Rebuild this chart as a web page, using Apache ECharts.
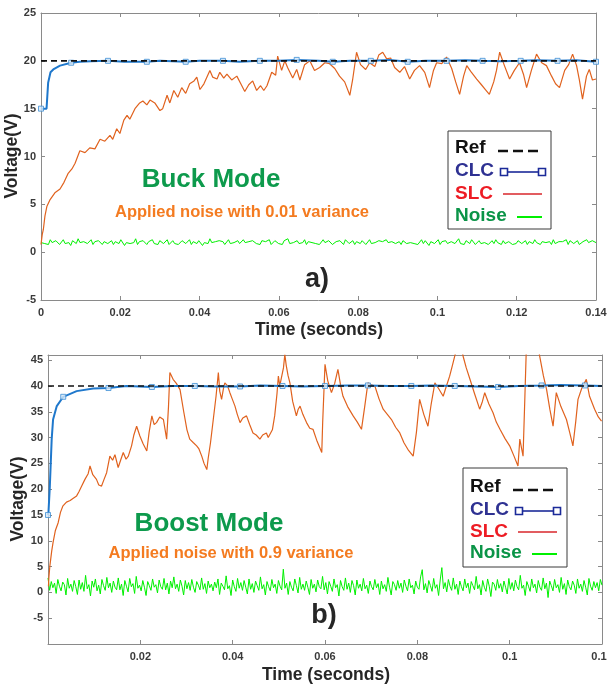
<!DOCTYPE html>
<html>
<head>
<meta charset="utf-8">
<script src="https://cdn.jsdelivr.net/npm/echarts@6/dist/echarts.min.js"></script>
<style>
  html, body { margin: 0; padding: 0; background: #ffffff; }
  #chart { width: 607px; height: 684px; }
</style>
</head>
<body>
<div id="chart"></div>
<script>
// ---------- Panel a) : Buck mode, 20 V reference ----------
const buckRef = 20;
const buckSpan = 0.14;
const buckTicksY = { min: -5, max: 25, step: 5 };

const buckClc = [[0,15.0],[0.0014,15.0],[0.0018,17.7],[0.0024,18.8],[0.0031,19.1],[0.0048,19.5],[0.0076,19.8],
  [0.0098,19.9],[0.0125,19.95],[0.0169,20.0],[0.021,19.9],[0.0267,19.9],[0.03,20.0],[0.0365,19.9],[0.04,20.0],
  [0.0459,20.0],[0.05,19.9],[0.0552,20.0],[0.06,20.0],[0.0645,20.1],[0.07,20.0],[0.0736,19.9],[0.078,20.0],
  [0.0832,20.0],[0.088,20.1],[0.0925,19.9],[0.097,20.0],[0.1023,20.0],[0.107,20.05],[0.1114,20.0],[0.116,19.95],
  [0.121,20.0],[0.125,20.05],[0.1303,20.0],[0.135,20.05],[0.14,19.9]];

const buckClcMarks = [[0,15.0],[0.0076,19.8],[0.0169,20.0],[0.0267,19.9],[0.0365,19.9],[0.0459,20.0],[0.0552,20.0],
  [0.0645,20.1],[0.0736,19.9],[0.0832,20.0],[0.0925,19.9],[0.1023,20.0],[0.1114,20.0],[0.121,20.0],[0.1303,20.0],[0.14,19.9]];

const buckSlc = [[0,0.8],[0.0003,1.8],[0.0006,2.4],[0.001,3.8],[0.0015,4.8],[0.0023,5.5],[0.0035,6.2],[0.0048,6.6],
  [0.0058,7.3],[0.0068,8.2],[0.0073,8.0],[0.0078,8.7],[0.0086,9.3],[0.0098,10.6],[0.0111,10.4],[0.0123,10.9],
  [0.0136,10.8],[0.0149,11.8],[0.0161,11.6],[0.0174,12.2],[0.0181,11.8],[0.0191,12.9],[0.0199,12.4],[0.0209,13.8],
  [0.0217,14.3],[0.0224,13.9],[0.0237,15.0],[0.0249,15.6],[0.0257,15.8],[0.0267,15.4],[0.0275,15.9],[0.0287,15.6],
  [0.03,14.8],[0.0307,15.0],[0.0318,16.4],[0.0325,15.6],[0.0335,16.9],[0.0345,16.2],[0.0355,17.2],[0.0365,16.6],
  [0.0375,17.6],[0.0386,17.9],[0.0393,18.3],[0.0401,17.0],[0.0411,17.6],[0.0426,19.0],[0.0433,18.3],[0.0444,18.1],
  [0.0451,18.8],[0.0461,18.2],[0.0469,18.6],[0.0481,18.0],[0.0494,18.4],[0.0504,17.6],[0.0514,16.8],[0.0524,17.5],
  [0.0534,17.9],[0.0544,16.9],[0.0554,17.4],[0.0562,16.9],[0.057,17.4],[0.0582,18.8],[0.0592,18.5],[0.0597,20.5],
  [0.0607,19.0],[0.0615,20.0],[0.0622,19.3],[0.0635,18.2],[0.0645,19.1],[0.0653,18.0],[0.0665,19.6],[0.0678,20.0],
  [0.069,19.0],[0.0703,19.3],[0.0716,19.8],[0.0728,19.7],[0.0741,19.2],[0.0753,18.4],[0.0766,17.8],[0.0779,16.4],
  [0.0786,18.0],[0.0796,20.9],[0.0806,19.6],[0.0819,19.1],[0.0829,19.8],[0.0842,19.4],[0.0852,20.6],[0.0862,20.9],
  [0.0872,20.2],[0.0882,20.3],[0.0892,19.3],[0.0905,18.8],[0.0917,19.4],[0.093,18.1],[0.0942,19.0],[0.0955,19.5],
  [0.0968,18.8],[0.098,17.2],[0.099,19.0],[0.0998,19.8],[0.1011,19.7],[0.1023,20.4],[0.1036,19.2],[0.1046,17.8],
  [0.1056,16.5],[0.1066,18.4],[0.1074,19.5],[0.1084,18.9],[0.1099,18.1],[0.1111,17.5],[0.1121,17.0],[0.1131,16.5],
  [0.1142,17.8],[0.1149,19.0],[0.1157,20.9],[0.1169,19.5],[0.1182,18.1],[0.1194,19.0],[0.1207,19.8],[0.1217,18.6],
  [0.1225,17.2],[0.1237,19.0],[0.125,20.7],[0.1263,19.8],[0.1275,19.5],[0.1288,18.4],[0.1298,17.6],[0.1308,17.2],
  [0.1321,19.0],[0.1331,19.6],[0.1341,20.7],[0.1351,19.5],[0.1358,18.0],[0.1366,16.0],[0.1376,18.4],[0.1383,19.1],
  [0.1391,18.0],[0.14,18.1]];

// measured noise samples, evenly spaced over the run
const buckNoise = [
  1.0,1.2,0.9,1.1,0.8,1.3,1.0,0.9,1.2,1.1,0.8,1.0,1.3,0.9,1.1,1.0,0.7,1.2,1.1,0.9,
  1.4,1.0,0.8,1.1,1.2,0.9,1.0,1.3,0.8,1.1,0.9,1.2,1.0,0.8,1.1,1.3,0.9,1.0,1.2,0.8,
  1.1,1.0,0.9,1.3,1.1,0.7,1.0,1.2,0.9,1.1,1.0,1.4,0.8,1.1,0.9,1.2,1.0,0.8,1.1,1.0,
  1.3,0.9,1.1,0.8,1.2,1.0,0.9,1.1,1.3,0.8,1.0,1.2,0.9,1.1,0.8,1.0,1.2,1.1,0.9,1.0,
  1.3,0.8,1.1,1.0,0.9,1.2,1.1,0.7,1.0,1.2,0.9,1.4,1.0,0.8,1.1,0.9,1.2,1.0,1.1,0.8,
  1.0,1.3,0.9,1.1,1.0,0.8,1.2,0.9,1.1,1.3,1.0,0.8,1.1,0.9,1.2,1.0,0.9,1.1,0.8,1.2,
  1.0,1.1,0.9,1.3,0.8,1.0,1.2,1.1,0.9,1.0,0.8,1.2,1.0,1.4,0.9,1.1,1.0,0.8,1.2,0.9,
  1.1,1.0,1.3,0.8,1.1,0.9,1.0,1.2,0.9,1.1,0.8,1.0,1.3,1.0,0.9,1.2,1.1,0.8,1.0,1.1,
  0.9,1.2,1.0,0.8,1.3,1.1,0.9,1.0,1.2,0.8,1.1,1.0,0.9,1.2,1.1,0.8,1.0,1.3,0.9,1.1,
  1.0,0.8,1.2,1.0,1.1,0.9,1.3,1.0,0.8,1.1,1.2,0.9,1.0,1.1,0.8,1.2,1.0,0.9,1.1,1.0,
  1.2,0.9,1.1,0.8,1.0,1.3,0.9,1.2,1.0,0.7,1.1,1.2,0.9,1.0,1.3,0.8,1.1,1.0,1.2,0.9,
  0.8,1.1,1.2,0.9,1.0,1.4,0.9,1.1,0.8,1.2,1.0,0.9,1.3,1.1,0.8,1.0,1.2,0.9,1.1,1.0,
  1.1,0.8,1.0,1.2,0.9,1.3,1.0,1.1,0.8,1.2,0.9,1.0,1.1,1.3,0.8,1.0,0.9,1.2,1.1,0.9,
  1.0,1.2,0.8,1.1,1.0,0.9,1.3,1.0,1.2,0.8,1.1,0.9,1.0,1.2,1.1,0.8,1.3,0.9,1.0,1.1,
  0.9,1.1,1.0,1.3,0.8,1.2,1.0,0.9,1.1,1.2,0.8,1.0,1.1,0.9,1.3,1.0,0.8,1.2,1.1,1.0];

// ---------- Panel b) : Boost mode, 40 V reference ----------
const boostRef = 40;
const boostSpan = 0.12;
const boostTicksY = { min: -10, max: 46, step: 5 };

const boostClc = [[0,15.0],[0.0001,15.5],[0.0004,20.6],[0.0008,29.7],[0.0011,33.5],[0.0019,36.1],[0.0033,37.9],
  [0.0062,39.0],[0.0098,39.5],[0.0131,39.6],[0.017,40.0],[0.0225,39.8],[0.027,40.0],[0.0318,40.0],[0.036,39.9],
  [0.0416,39.9],[0.046,40.1],[0.0508,40.0],[0.055,39.9],[0.06,40.0],[0.065,40.1],[0.0693,40.1],[0.074,40.0],
  [0.0787,40.0],[0.083,40.1],[0.0881,40.0],[0.093,39.9],[0.0975,39.8],[0.102,40.0],[0.1069,40.1],[0.111,40.2],
  [0.1163,40.1],[0.12,40.0]];

const boostClcMarks = [[0,15.0],[0.0033,37.9],[0.0131,39.6],[0.0225,39.8],[0.0318,40.0],[0.0416,39.9],[0.0508,40.0],
  [0.06,40.0],[0.0693,40.1],[0.0787,40.0],[0.0881,40.0],[0.0975,39.8],[0.1069,40.1],[0.1163,40.1]];

const boostSlc = [[0.0001,1.2],[0.0002,3.0],[0.0004,5.1],[0.0008,8.0],[0.0011,9.7],[0.0016,12.0],[0.0022,13.5],
  [0.0027,15.5],[0.0032,16.7],[0.004,17.5],[0.0048,17.8],[0.0054,18.2],[0.0062,18.7],[0.0067,19.5],[0.0073,20.6],
  [0.008,21.9],[0.0087,23.0],[0.0091,24.5],[0.0097,22.8],[0.0105,21.9],[0.011,20.8],[0.0116,20.6],[0.0121,21.8],
  [0.0127,23.2],[0.0134,26.4],[0.014,25.6],[0.0145,26.7],[0.0152,24.2],[0.0158,25.8],[0.0163,27.1],[0.0169,25.8],
  [0.0174,26.4],[0.0181,28.4],[0.0186,30.5],[0.0192,32.2],[0.0199,30.3],[0.0206,28.8],[0.0214,27.4],[0.0219,31.0],
  [0.0225,34.2],[0.023,32.5],[0.0235,32.9],[0.0242,34.0],[0.025,33.5],[0.0257,29.7],[0.0261,36.0],[0.0264,42.6],
  [0.0271,41.3],[0.0278,40.5],[0.0286,39.3],[0.0294,35.0],[0.0301,31.5],[0.0307,29.7],[0.0315,29.0],[0.0322,28.4],
  [0.0327,27.8],[0.0333,26.4],[0.0338,25.0],[0.0344,23.8],[0.0347,26.0],[0.0352,29.0],[0.0358,33.5],[0.0364,38.0],
  [0.0369,42.6],[0.0372,39.0],[0.0376,37.4],[0.038,39.5],[0.0383,40.6],[0.0389,40.0],[0.0394,38.7],[0.0399,37.5],
  [0.0405,36.1],[0.041,34.5],[0.0416,32.9],[0.0422,33.8],[0.043,34.2],[0.0437,32.5],[0.0444,30.9],[0.0451,30.5],
  [0.0459,29.7],[0.0465,30.5],[0.0473,30.9],[0.0477,30.0],[0.0481,29.7],[0.0486,31.5],[0.0491,34.2],[0.0496,38.5],
  [0.0499,41.9],[0.0502,40.0],[0.0506,40.0],[0.051,43.5],[0.0513,46.1],[0.0516,44.0],[0.052,42.0],[0.0524,40.6],
  [0.053,37.0],[0.0538,34.2],[0.0542,35.5],[0.0546,36.1],[0.0552,34.5],[0.056,32.9],[0.0567,31.8],[0.0574,31.6],
  [0.0582,29.5],[0.0593,27.1],[0.0595,33.0],[0.06,44.2],[0.0606,41.0],[0.0614,38.7],[0.0621,40.5],[0.0628,43.2],
  [0.0634,40.0],[0.0639,38.0],[0.0649,36.0],[0.0661,34.2],[0.067,33.0],[0.0679,31.6],[0.0686,36.0],[0.0693,40.6],
  [0.07,40.2],[0.0708,40.0],[0.0717,37.5],[0.0726,35.5],[0.0735,34.5],[0.0744,33.5],[0.0753,32.0],[0.0762,30.9],
  [0.0771,29.0],[0.0781,27.5],[0.0791,26.4],[0.0798,31.0],[0.0805,37.4],[0.0814,34.5],[0.0823,32.2],[0.083,36.5],
  [0.0838,40.6],[0.0846,39.5],[0.0856,38.0],[0.0863,40.0],[0.087,41.9],[0.0876,44.0],[0.0881,45.8],[0.0888,48.0],
  [0.0892,49.0],[0.0896,47.5],[0.0899,45.8],[0.0906,43.5],[0.0914,41.3],[0.0924,38.5],[0.0935,35.5],[0.0941,37.0],
  [0.0946,38.7],[0.0955,36.5],[0.0964,34.8],[0.0971,33.0],[0.0979,31.6],[0.099,29.8],[0.1,28.4],[0.1009,26.5],
  [0.1018,24.5],[0.1022,29.7],[0.1029,26.4],[0.1033,38.0],[0.1036,47.0],[0.1039,50.0],[0.1057,50.0],[0.1065,45.8],
  [0.1073,42.0],[0.108,39.3],[0.1087,35.5],[0.1094,32.2],[0.1101,38.7],[0.1111,36.0],[0.1123,33.5],[0.113,31.0],
  [0.1137,28.4],[0.1143,33.0],[0.1148,37.4],[0.1156,39.5],[0.1166,41.3],[0.1173,38.0],[0.1184,35.5],[0.1192,34.0],
  [0.1199,33.2]];

const boostNoise = [
  2.8,0.4,2.1,0.9,1.8,-0.2,2.5,1.2,0.3,2.0,1.5,-0.5,2.7,0.8,1.6,0.2,2.3,1.1,-0.4,2.4,
  0.6,1.9,0.2,3.3,0.7,1.5,-0.7,2.2,1.0,2.6,0.3,1.4,-0.3,2.5,1.3,0.4,2.9,0.9,1.8,0.0,
  2.2,1.0,0.5,2.8,0.5,1.6,-0.6,2.3,1.2,0.1,2.7,1.1,1.7,-0.2,3.1,0.8,1.4,0.3,2.3,1.0,
  -0.6,2.1,1.3,0.4,2.6,1.0,1.5,-0.1,2.4,1.1,0.6,2.7,0.5,1.8,-0.3,2.2,0.9,3.0,0.7,1.6,
  0.2,2.4,1.2,-0.5,2.3,0.7,1.9,0.4,2.5,1.0,0.0,2.1,1.4,0.5,2.8,0.6,1.7,-0.2,2.2,0.9,
  1.6,0.3,2.0,0.9,2.6,-0.4,1.8,1.2,0.5,3.2,0.7,1.3,-0.6,2.4,1.1,0.2,2.7,0.8,1.9,0.4,
  2.3,1.0,-0.3,2.6,0.6,1.7,0.0,2.2,1.3,0.4,3.0,0.7,1.5,-0.5,2.1,1.1,0.3,2.5,0.9,1.6,
  -0.2,2.3,1.2,0.5,4.5,0.8,1.8,-0.4,2.1,1.0,0.3,2.6,1.3,-0.1,2.9,0.6,1.6,0.4,2.2,1.0,
  -0.4,2.5,0.8,1.6,0.1,2.4,1.1,0.7,3.1,0.5,1.9,-0.3,2.1,1.2,0.2,2.6,0.9,1.5,-0.7,2.3,
  1.1,0.4,2.8,0.6,1.8,0.0,2.3,1.3,-0.5,2.4,0.8,1.6,0.3,2.7,0.7,1.4,-0.2,2.2,1.1,0.5,
  2.5,0.9,1.7,-0.4,2.2,0.7,1.5,0.2,2.9,1.0,-0.5,2.1,1.5,0.4,2.3,0.8,1.8,0.0,2.4,1.2,
  0.3,2.6,0.9,1.4,-0.3,2.2,1.0,0.6,3.0,4.4,0.5,1.7,-0.1,2.3,1.3,0.2,2.7,0.8,1.5,-0.6,
  2.4,4.8,0.7,1.9,0.1,2.5,1.2,0.4,2.8,0.6,1.6,-0.4,2.2,1.1,0.3,2.6,0.9,1.8,-0.2,2.1,
  1.3,0.5,3.1,0.7,1.5,-0.5,2.3,1.0,0.2,2.6,1.2,-0.8,2.0,1.6,0.4,2.5,0.8,1.7,0.1,2.2,
  1.0,-0.3,2.7,0.6,1.9,0.3,2.4,1.1,0.5,3.3,0.8,1.4,-0.6,2.1,1.2,0.2,2.6,0.9,1.6,-0.1,
  2.3,1.0,0.4,2.8,0.7,1.8,-1.0,2.2,1.3,0.3,2.5,0.9,1.5,0.0,2.9,0.6,1.7,-0.4,2.4,1.1,
  0.5,2.2,1.4,-0.2,2.6,0.8,1.6,0.2,2.3,1.0,-0.5,2.7,1.2,0.4,2.1,0.9,1.9,0.3,2.5,1.4];

// ---------- shared styling ----------
const FONT = 'Liberation Sans';
const AXIS_GREY = '#8a8a8a';
const C_CLC = '#1f78cc';
const C_SLC = '#e0621e';
const C_NOISE = '#00f000';

function sampled(values, span) {
  const n = values.length;
  return values.map((v, i) => [i * span / (n - 1), v]);
}

const grids = [
  { left: 41, top: 13, width: 555, height: 287, outerBoundsMode: 'none', containLabel: false },
  { left: 48, top: 355, width: 554, height: 289, outerBoundsMode: 'none', containLabel: false }
];

function xAxes(gridIndex, span, hideZero) {
  const base = {
    type: 'value', gridIndex, min: 0, max: span, interval: 0.02,
    splitLine: { show: false },
    axisLine: { show: true, onZero: false, lineStyle: { color: AXIS_GREY, width: 1 } },
    axisTick: { show: true, inside: true, length: 4, lineStyle: { color: AXIS_GREY } }
  };
  return [
    Object.assign({}, base, {
      position: 'bottom',
      axisLabel: {
        color: '#3a3a3a', fontSize: 11, fontWeight: 'bold', fontFamily: FONT, margin: 7,
        formatter: v => (hideZero && Math.abs(v) < 1e-9) ? '' : String(+v.toFixed(2))
      }
    }),
    Object.assign({}, base, { position: 'top', axisLabel: { show: false } })
  ];
}

function yAxes(gridIndex, ticks) {
  const base = {
    type: 'value', gridIndex, min: ticks.min, max: ticks.max, interval: ticks.step,
    splitLine: { show: false },
    axisLine: { show: true, onZero: false, lineStyle: { color: AXIS_GREY, width: 1 } },
    axisTick: { show: true, inside: true, length: 4, lineStyle: { color: AXIS_GREY } }
  };
  return [
    Object.assign({}, base, {
      position: 'left',
      axisLabel: {
        color: '#3a3a3a', fontSize: 11, fontWeight: 'bold', fontFamily: FONT, margin: 5,
        formatter: v => (v % ticks.step !== 0 || v === -10) ? '' : String(v)
      }
    }),
    Object.assign({}, base, { position: 'right', axisLabel: { show: false } })
  ];
}

function panelSeries(idx, span, ref, clc, marks, slc, noise) {
  const ax = { xAxisIndex: idx * 2, yAxisIndex: idx * 2 };
  return [
    Object.assign({ type: 'line', name: 'Noise', data: sampled(noise, span), showSymbol: false,
      lineStyle: { color: C_NOISE, width: 1 }, z: 2 }, ax),
    Object.assign({ type: 'line', name: 'SLC', data: slc, showSymbol: false,
      lineStyle: { color: C_SLC, width: 1.2 }, z: 3 }, ax),
    Object.assign({ type: 'line', name: 'CLC', data: clc, showSymbol: false,
      lineStyle: { color: C_CLC, width: 2 }, z: 4 }, ax),
    Object.assign({ type: 'scatter', name: 'CLC marks', data: marks, symbol: 'rect', symbolSize: 5,
      itemStyle: { color: '#d4e7f8', borderColor: '#3f8ed4', borderWidth: 1 }, z: 5 }, ax),
    Object.assign({ type: 'line', name: 'Ref', data: [[0, ref], [span, ref]], showSymbol: false,
      lineStyle: { color: '#111111', width: 1.6, type: [6, 4] }, z: 6 }, ax)
  ];
}

// ---------- legend boxes and annotations ----------
const legendRows = [
  { label: 'Ref', color: '#111111' },
  { label: 'CLC', color: '#2e3192' },
  { label: 'SLC', color: '#ed1c24' },
  { label: 'Noise', color: '#0a9447' }
];

function legendBox(x, y, w, h, rowY) {
  const els = [{
    type: 'rect', shape: { x, y, width: w, height: h },
    style: { fill: '#ffffff', stroke: '#3a3a3a', lineWidth: 1 }, z: 100
  }];
  legendRows.forEach((r, i) => {
    els.push({ type: 'text', x: x + 7, y: y + rowY[i], z: 101,
      style: { text: r.label, fill: r.color, font: 'bold 19px ' + FONT, verticalAlign: 'middle', align: 'left' } });
  });
  const yr = rowY.map(v => y + v);
  // Ref: dashed black
  els.push({ type: 'line', z: 101, shape: { x1: x + 50, y1: yr[0] + 3, x2: x + 91, y2: yr[0] + 3 },
    style: { stroke: '#111111', lineWidth: 2.4, lineDash: [10, 5] } });
  // CLC: navy line with hollow squares at both ends
  els.push({ type: 'line', z: 101, shape: { x1: x + 60, y1: yr[1] + 1, x2: x + 90, y2: yr[1] + 1 },
    style: { stroke: '#1b2a99', lineWidth: 1.6 } });
  [56, 94].forEach(cx => els.push({ type: 'rect', z: 102,
    shape: { x: x + cx - 3.5, y: yr[1] + 1 - 3.5, width: 7, height: 7 },
    style: { fill: '#ffffff', stroke: '#1b2a99', lineWidth: 1.6 } }));
  // SLC: red line
  els.push({ type: 'line', z: 101, shape: { x1: x + 55, y1: yr[2], x2: x + 94, y2: yr[2] },
    style: { stroke: '#d9262b', lineWidth: 1.6 } });
  // Noise: bright green line
  els.push({ type: 'line', z: 101, shape: { x1: x + 69, y1: yr[3] + 1, x2: x + 94, y2: yr[3] + 1 },
    style: { stroke: C_NOISE, lineWidth: 2 } });
  return els;
}

function label(text, x, y, font, fill, rotation) {
  return { type: 'text', x, y, rotation: rotation || 0, z: 90,
    style: { text, font, fill, align: 'center', verticalAlign: 'middle' } };
}

const graphics = [].concat(
  legendBox(448, 131, 103, 98, [17, 40, 63, 85]),
  legendBox(463, 468, 104, 99, [19, 42, 64, 85]),
  [
    label('Voltage(V)', 12, 156, 'bold 17.5px ' + FONT, '#262626', Math.PI / 2),
    label('Time (seconds)', 319, 330, 'bold 17.5px ' + FONT, '#262626'),
    label('Buck Mode', 211, 180, 'bold 26px ' + FONT, '#0d9a4c'),
    label('Applied noise with 0.01 variance', 242, 212, 'bold 16.5px ' + FONT, '#f47b20'),
    label('a)', 317, 280, 'bold 27px ' + FONT, '#262626'),
    label('Voltage(V)', 18, 499, 'bold 17.5px ' + FONT, '#262626', Math.PI / 2),
    label('Time (seconds)', 326, 675, 'bold 17.5px ' + FONT, '#262626'),
    label('Boost Mode', 209, 524, 'bold 26px ' + FONT, '#0d9a4c'),
    label('Applied noise with 0.9 variance', 231, 553, 'bold 16.5px ' + FONT, '#f47b20'),
    label('b)', 324, 616, 'bold 27px ' + FONT, '#262626')
  ]
);

const chart = echarts.init(document.getElementById('chart'), null, { renderer: 'canvas' });
chart.setOption({
  backgroundColor: '#ffffff',
  animation: false,
  grid: grids,
  xAxis: [].concat(xAxes(0, buckSpan, false), xAxes(1, boostSpan, true)),
  yAxis: [].concat(yAxes(0, buckTicksY), yAxes(1, boostTicksY)),
  series: [].concat(
    panelSeries(0, buckSpan, buckRef, buckClc, buckClcMarks, buckSlc, buckNoise),
    panelSeries(1, boostSpan, boostRef, boostClc, boostClcMarks, boostSlc, boostNoise)
  ),
  graphic: graphics
});
</script>
</body>
</html>
